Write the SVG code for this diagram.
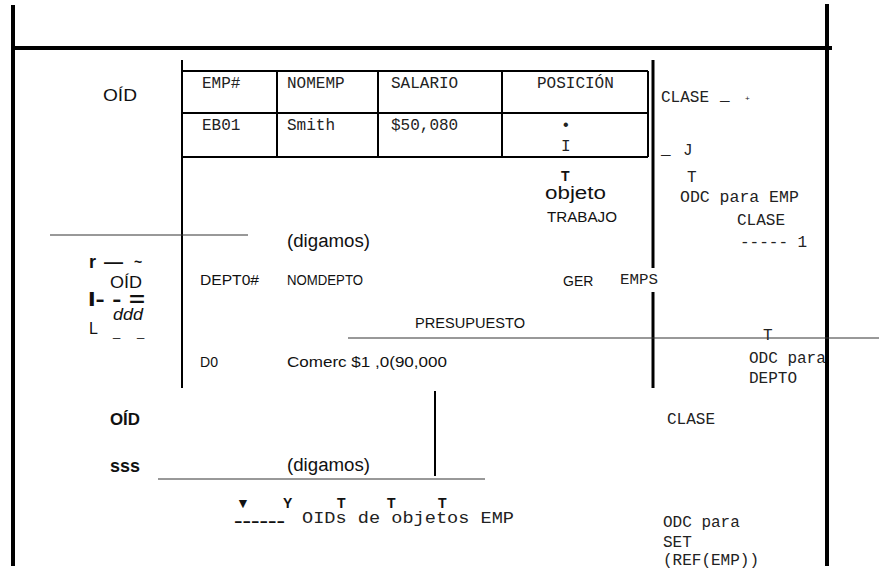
<svg xmlns="http://www.w3.org/2000/svg" width="879" height="569" viewBox="0 0 879 569">
<style>
.m{font-family:"Liberation Mono","Courier New",monospace;font-size:16px;fill:#222}
.s{font-family:"Liberation Sans",Arial,sans-serif;font-size:14px;fill:#111}
.b{font-weight:bold}
.thick{stroke:#000;stroke-width:4;fill:none}
.med{stroke:#000;stroke-width:3;fill:none}
.cell{stroke:#000;stroke-width:2;fill:none}
.thin{stroke:#333;stroke-width:1;fill:none}
</style>
<rect width="879" height="569" fill="#fff"/>
<g id="emp-table">
<text class="m" x="202" y="88">EMP#</text>
<text class="m" x="287" y="88">NOMEMP</text>
<text class="m" x="391" y="88">SALARIO</text>
<text class="m" x="537" y="88">POSICIÓN</text>
<text class="m" x="202" y="130">EB01</text>
<text class="m" x="287" y="130">Smith</text>
<text class="m" x="391" y="130">$50,080</text>
<text class="m" x="561" y="130">•</text>
<text class="m" x="561" y="151">I</text>
<line class="cell" x1="182" y1="71" x2="648" y2="71"/>
<line class="cell" x1="182" y1="113" x2="648" y2="113"/>
<line class="cell" x1="182" y1="157" x2="648" y2="157"/>
<line class="cell" x1="277" y1="71" x2="277" y2="157"/>
<line class="cell" x1="378" y1="71" x2="378" y2="157"/>
<line class="cell" x1="502" y1="71" x2="502" y2="157"/>
<line class="cell" x1="648" y1="71" x2="648" y2="157"/>
</g>
<g id="labels-left">
<text class="s" x="103" y="101" style="font-size:16px" textLength="34" lengthAdjust="spacingAndGlyphs">OÍD</text>
<text class="s b" x="89" y="268" style="font-size:18px">r</text>
<text class="s b" x="104" y="268" style="font-size:18px" textLength="19" lengthAdjust="spacingAndGlyphs">—</text>
<text class="s b" x="134" y="267" style="font-size:14px">~</text>
<text class="s" x="110" y="288" style="font-size:16px" textLength="32" lengthAdjust="spacingAndGlyphs">OÍD</text>
<text class="s b" x="88" y="306" style="font-size:20px" textLength="57" lengthAdjust="spacingAndGlyphs">I- - =</text>
<text class="s" x="113" y="320" style="font-size:16px;font-style:italic" textLength="30" lengthAdjust="spacingAndGlyphs">ddd</text>
<text class="s" x="89" y="334" style="font-size:16px">L</text>
<text class="s" x="113" y="336" style="font-size:13px">_</text>
<text class="s" x="137" y="336" style="font-size:13px">_</text>
<text class="s b" x="110" y="425" style="font-size:16px" textLength="30" lengthAdjust="spacingAndGlyphs">OÍD</text>
<text class="s b" x="110" y="472" style="font-size:18px" textLength="30" lengthAdjust="spacingAndGlyphs">sss</text>
</g>
<g id="labels-center">
<text class="s b" x="561" y="181" style="font-size:14px">T</text>
<text class="s" x="545" y="199" style="font-size:18px" textLength="61" lengthAdjust="spacingAndGlyphs">objeto</text>
<text class="s" x="547" y="222" style="font-size:14px" textLength="70" lengthAdjust="spacingAndGlyphs">TRABAJO</text>
<text class="s" x="287" y="247" style="font-size:18px" textLength="83" lengthAdjust="spacingAndGlyphs">(digamos)</text>
<text class="s" x="200" y="285" style="font-size:14px" textLength="59" lengthAdjust="spacingAndGlyphs">DEPT0#</text>
<text class="s" x="287" y="285" style="font-size:14px" textLength="76" lengthAdjust="spacingAndGlyphs">NOMDEPTO</text>
<text class="s" x="563" y="286" style="font-size:14px">GER</text>
<text class="m" x="620" y="284" style="font-size:15px" textLength="38" lengthAdjust="spacingAndGlyphs">EMPS</text>
<text class="s" x="415" y="328" style="font-size:15px" textLength="110" lengthAdjust="spacingAndGlyphs">PRESUPUESTO</text>
<text class="s" x="200" y="367" style="font-size:14px" textLength="18" lengthAdjust="spacingAndGlyphs">D0</text>
<text class="s" x="287" y="367" style="font-size:14px" textLength="160" lengthAdjust="spacingAndGlyphs">Comerc $1 ,0(90,000</text>
<text class="s" x="287" y="471" style="font-size:18px" textLength="83" lengthAdjust="spacingAndGlyphs">(digamos)</text>
<text class="s b" x="236" y="508" style="font-size:14px">▼</text>
<text class="s b" x="283" y="508" style="font-size:14px">Y</text>
<text class="s b" x="337" y="508" style="font-size:14px">T</text>
<text class="s b" x="387" y="508" style="font-size:14px">T</text>
<text class="s b" x="438" y="508" style="font-size:14px">T</text>
<text class="s b" x="234" y="526" style="font-size:14px" textLength="51" lengthAdjust="spacingAndGlyphs">------</text>
<text class="m" x="302" y="523" style="font-size:17px" textLength="212" lengthAdjust="spacingAndGlyphs">OIDs de objetos EMP</text>
</g>
<g id="labels-right">
<text class="m" x="661" y="102">CLASE</text>
<text class="m" x="720" y="100">_</text>
<text class="m" x="745" y="101" style="font-size:8px">+</text>
<text class="m" x="661" y="154">_</text>
<text class="m" x="683" y="155">J</text>
<text class="m" x="687" y="182">T</text>
<text class="m" x="680" y="202" style="font-size:16.5px">ODC para EMP</text>
<text class="m" x="737" y="225">CLASE</text>
<text class="m" x="740" y="247">----- 1</text>
<text class="m" x="763" y="340">T</text>
<text class="m" x="749" y="363">ODC para</text>
<text class="m" x="749" y="383">DEPTO</text>
<text class="m" x="667" y="424">CLASE</text>
<text class="m" x="663" y="527">ODC para</text>
<text class="m" x="663" y="547">SET</text>
<text class="m" x="663" y="565">(REF(EMP))</text>
</g>
<g id="connectors">
<line class="thick" x1="13" y1="5" x2="13" y2="566"/>
<line class="thick" x1="11" y1="48" x2="832" y2="48"/>
<line class="thick" x1="827" y1="4" x2="827" y2="566"/>
<line class="cell" x1="182" y1="60" x2="182" y2="388"/>
<line class="med" x1="653" y1="60" x2="653" y2="268"/>
<line class="med" x1="653" y1="292" x2="653" y2="388"/>
<line class="thin" x1="50" y1="235" x2="248" y2="235"/>
<line class="thin" x1="348" y1="338" x2="879" y2="338"/>
<line class="cell" x1="435" y1="391" x2="435" y2="476"/>
<line class="thin" x1="158" y1="479" x2="485" y2="479"/>
</g>
</svg>
